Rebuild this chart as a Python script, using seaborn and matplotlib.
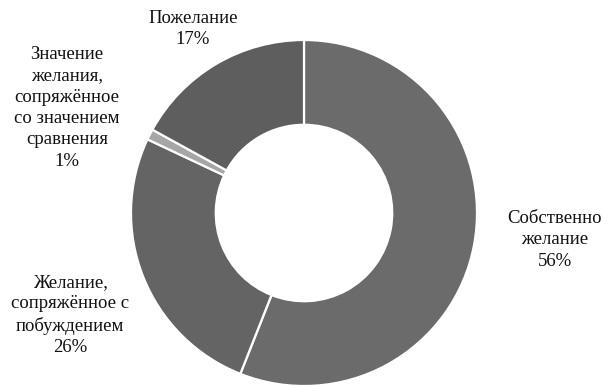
import matplotlib
matplotlib.use("Agg")
import matplotlib.pyplot as plt
import seaborn as sns

categories = [
    "Собственно\nжелание",
    "Желание,\nсопряжённое с\nпобуждением",
    "Значение\nжелания,\nсопряжённое\nсо значением\nсравнения",
    "Пожелание",
]
shares = [56, 26, 1, 17]
colors = ["#6b6b6b", "#646464", "#a6a6a6", "#5e5e5e"]

sns.set_theme(style="white")
plt.rcParams["font.family"] = ["Liberation Serif", "DejaVu Serif"]
palette = sns.color_palette(colors)

W, H = 608, 385
fig = plt.figure(figsize=(W / 100, H / 100), dpi=100)
ax = fig.add_axes([0, 0, 1, 1])

cx, cy, R = 304, H - 213, 173
ax.pie(
    shares,
    colors=palette,
    startangle=90,
    counterclock=False,
    center=(cx, cy),
    radius=R,
    frame=True,
    wedgeprops=dict(width=R * 0.49, edgecolor="white", linewidth=1.6),
)
ax.set_xlim(0, W)
ax.set_ylim(0, H)
ax.set_aspect("equal")
ax.axis("off")

# label anchor points (centre of each text block)
label_xy = [(555, 240), (70, 315), (67, 108), (193, 29)]
for cat, val, (lx, ly) in zip(categories, shares, label_xy):
    ax.text(lx, H - ly, f"{cat}\n{val}%", ha="center", va="center",
            fontsize=13.5, color="#111111", linespacing=1.33)

fig.savefig("out.png", dpi=100)
